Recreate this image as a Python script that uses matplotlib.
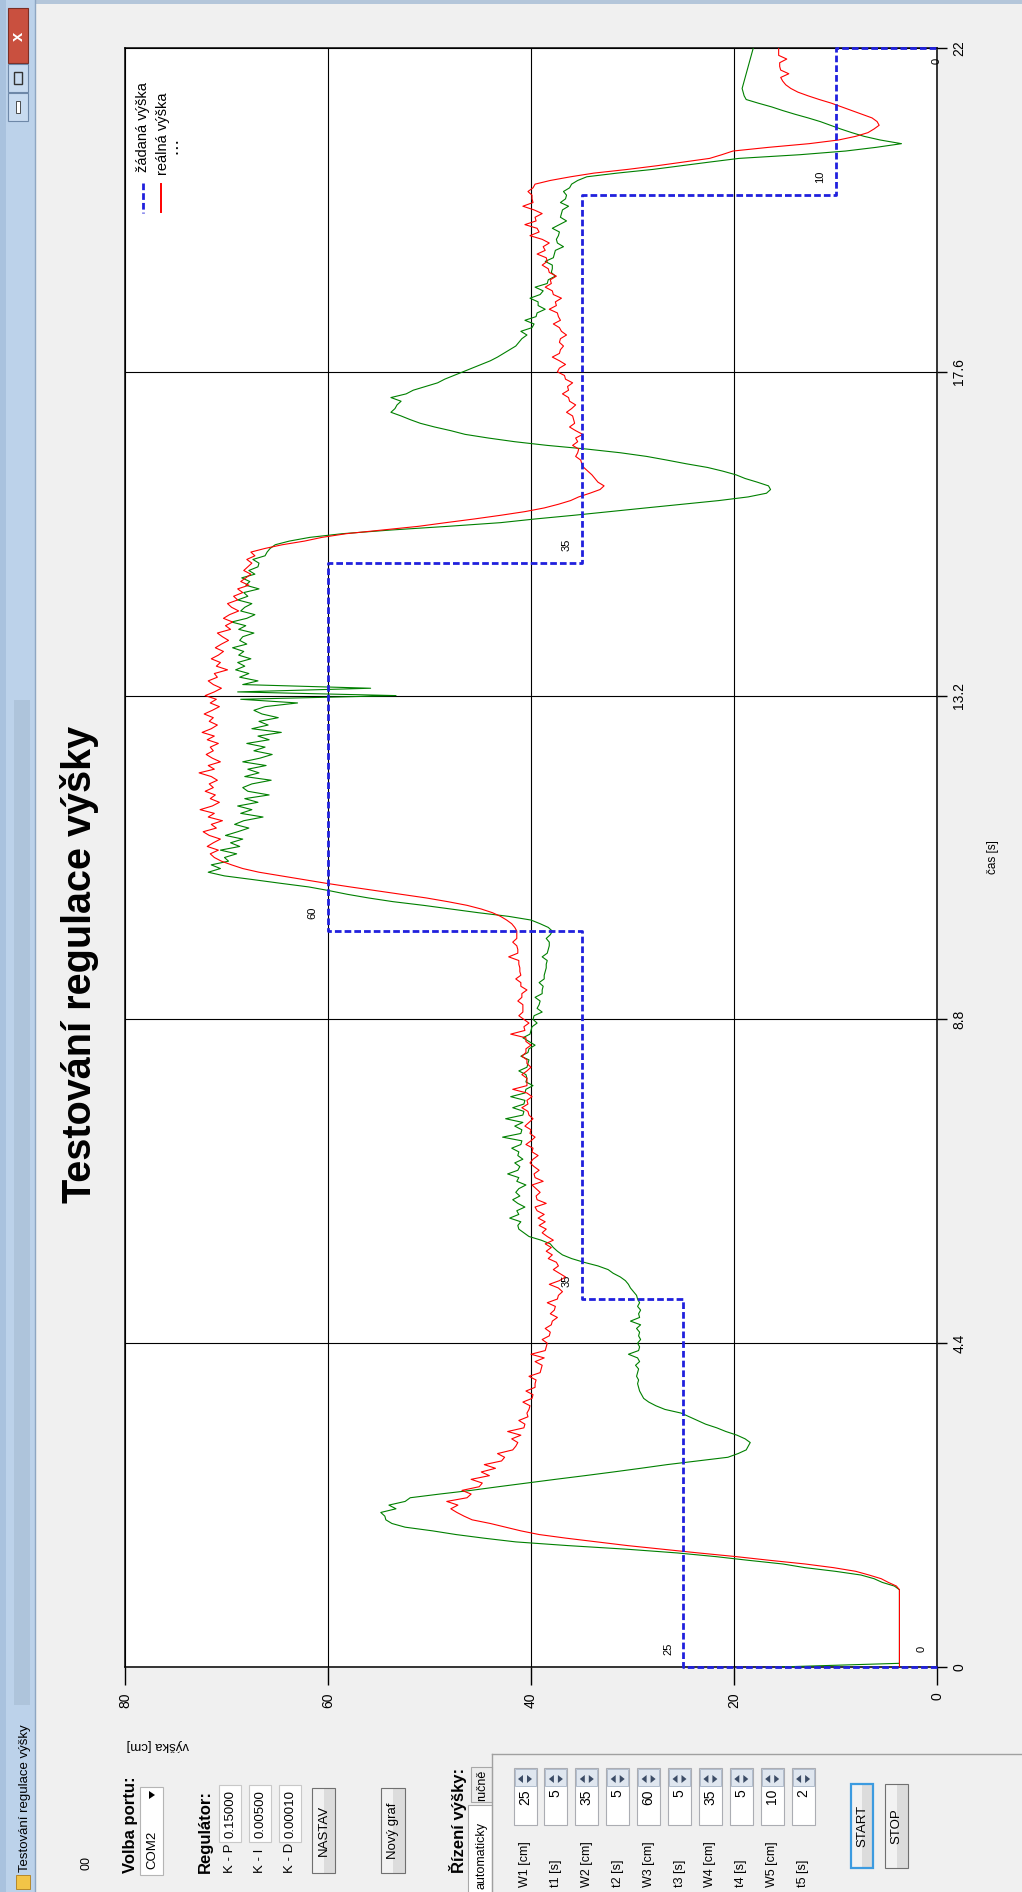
import numpy as np
import matplotlib.pyplot as plt
from matplotlib.patches import Rectangle, Polygon
from matplotlib.lines import Line2D

plt.rcParams['font.family'] = ['Liberation Sans', 'DejaVu Sans']

# ---------------- data ----------------
SAMPLE_PERIOD = 0.05          # s between logged samples

setpoint_start = 0
setpoint_t = [0, 5, 10, 15, 20, 22]      # s, start of each step
setpoint_h = [25, 35, 60, 35, 10, 0]     # cm

# reálná výška (red), one value per sample
real_h = [
    3.7, 3.7, 3.7, 3.7, 3.7, 3.7, 3.7, 3.7, 3.7, 3.7, 3.7, 3.7, 3.7, 3.7, 3.7, 3.7, 3.7, 3.7, 3.7, 3.7,
    3.7, 3.7, 4.0, 4.8, 5.5, 6.7, 8.0, 10.2, 13.0, 16.5, 19.8, 23.5, 27.0, 30.5, 33.5, 36.5, 39.2, 41.0, 42.5, 44.0,
    45.8, 46.6, 47.3, 47.9, 47.2, 48.3, 46.3, 45.9, 46.8, 45.1, 44.8, 45.9, 44.1, 44.9, 43.5, 44.6, 42.9, 42.6, 43.3, 41.8,
    41.5, 41.3, 41.9, 41.0, 42.3, 40.7, 40.6, 41.2, 40.3, 40.4, 40.2, 40.1, 40.8, 39.9, 39.8, 40.5, 39.6, 39.6, 39.5, 40.2,
    39.1, 39.0, 38.9, 39.6, 38.7, 40.0, 38.6, 38.5, 38.4, 38.9, 38.2, 38.1, 38.6, 38.0, 37.9, 37.4, 38.1, 37.7, 37.6, 38.4,
    37.4, 37.3, 36.9, 37.3, 38.2, 37.2, 36.6, 37.2, 37.8, 37.3, 37.5, 38.3, 37.9, 38.5, 38.0, 38.6, 37.8, 38.4, 38.9, 38.5,
    39.2, 38.6, 39.3, 38.7, 39.4, 39.6, 38.5, 39.4, 39.5, 39.1, 39.5, 39.9, 38.8, 39.6, 39.7, 39.2, 39.7, 40.1, 39.8, 39.3,
    39.9, 39.8, 40.5, 40.0, 39.6, 40.1, 40.0, 40.6, 40.2, 39.8, 40.2, 40.3, 40.9, 40.3, 40.4, 39.9, 40.4, 41.8, 40.4, 40.4,
    40.4, 40.9, 40.4, 40.0, 40.4, 40.4, 40.9, 40.5, 40.5, 40.0, 40.5, 40.5, 42.0, 40.6, 40.7, 40.2, 40.7, 41.2, 40.8, 40.8,
    40.8, 41.3, 40.9, 40.9, 40.4, 41.0, 41.0, 41.5, 41.0, 41.1, 41.1, 41.2, 41.2, 42.2, 41.3, 41.3, 41.4, 41.8, 41.4, 41.4,
    41.4, 41.6, 41.9, 42.4, 43.0, 43.8, 44.9, 46.3, 48.2, 50.3, 52.8, 55.3, 57.8, 60.2, 62.4, 64.6, 66.8, 68.4, 69.5, 70.5,
    71.2, 71.6, 70.8, 71.9, 71.3, 70.6, 71.7, 72.3, 71.0, 71.5, 70.4, 71.8, 71.2, 72.6, 71.4, 70.7, 71.6, 71.1, 72.1, 71.3,
    71.7, 70.9, 71.5, 72.7, 71.2, 71.8, 70.6, 71.4, 72.0, 71.3, 71.6, 70.8, 71.9, 71.2, 72.4, 71.5, 70.9, 71.7, 71.3, 72.2,
    71.4, 70.7, 71.6, 71.0, 72.1, 71.2, 70.5, 71.3, 71.8, 70.9, 71.2, 69.9, 71.0, 70.6, 71.5, 70.8, 70.3, 71.1, 70.5, 69.8,
    70.4, 70.9, 69.6, 70.1, 69.4, 70.3, 69.7, 68.8, 69.5, 69.9, 68.9, 69.3, 68.4, 68.9, 67.8, 68.6, 68.1, 67.6, 68.3, 67.9,
    67.5, 68.0, 67.2, 67.6, 66.2, 64.5, 62.3, 60.6, 58.2, 54.6, 51.1, 48.4, 45.6, 43.0, 40.6, 38.7, 37.3, 36.1, 35.3, 34.2,
    33.2, 32.8, 33.4, 33.7, 34.0, 34.4, 34.8, 35.0, 35.1, 35.6, 35.4, 35.3, 35.9, 35.4, 35.6, 34.9, 35.6, 36.2, 35.7, 35.8,
    35.9, 36.5, 36.0, 35.6, 36.2, 36.3, 36.9, 36.3, 36.4, 35.9, 36.6, 36.7, 37.4, 37.2, 36.6, 37.2, 37.9, 37.2, 37.1, 36.8,
    37.2, 37.1, 36.5, 37.0, 37.2, 37.8, 37.1, 37.3, 37.4, 38.2, 37.5, 37.6, 37.0, 37.8, 37.9, 38.6, 38.0, 38.1, 37.5, 38.2,
    38.3, 38.9, 38.4, 38.5, 39.4, 38.6, 38.8, 38.2, 38.9, 40.1, 39.2, 39.4, 40.6, 39.5, 39.6, 38.9, 39.7, 40.8, 39.8, 39.9,
    39.9, 40.3, 39.8, 39.6, 38.1, 36.1, 33.8, 30.5, 27.6, 25.0, 22.4, 21.2, 20.1, 16.6, 12.6, 9.7, 8.0, 6.8, 6.2, 5.7,
    5.9, 6.4, 7.4, 8.4, 9.4, 10.4, 11.6, 12.7, 13.7, 14.4, 14.9, 15.2, 15.4, 14.6, 15.4, 15.5, 15.5, 14.8, 15.6, 15.6,
    15.6,
]

# third (green) series
green_h = [
    15.6, 3.7, 3.7, 3.7, 3.7, 3.7, 3.7, 3.7, 3.7, 3.7, 3.7, 3.7, 3.7, 3.7, 3.7, 3.7, 3.7, 3.7, 3.7, 3.7,
    3.7, 3.7, 4.2, 5.4, 6.2, 7.5, 10.0, 13.0, 15.2, 18.6, 21.8, 25.6, 30.5, 36.4, 41.5, 44.6, 47.4, 49.7, 52.4, 53.7,
    54.3, 54.4, 54.8, 53.3, 54.0, 52.4, 51.9, 49.0, 45.9, 43.2, 40.4, 37.6, 34.7, 31.9, 29.2, 26.6, 23.6, 20.6, 19.6, 18.8,
    18.6, 18.4, 18.9, 19.7, 20.8, 21.7, 22.8, 23.6, 24.4, 25.2, 26.8, 27.7, 28.4, 28.9, 29.1, 29.3, 29.4, 29.5, 29.4, 29.6,
    29.5, 29.4, 29.7, 29.3, 29.5, 30.4, 29.4, 29.3, 29.5, 29.2, 29.4, 29.3, 29.6, 29.2, 30.2, 29.3, 29.4, 29.2, 29.5, 29.3,
    29.5, 29.6, 29.9, 30.2, 30.4, 30.7, 31.2, 31.9, 32.4, 33.4, 34.8, 36.0, 36.9, 37.4, 37.8, 38.1, 39.0, 40.2, 40.7, 41.2,
    41.3, 41.0, 42.1, 41.2, 41.4, 40.6, 41.3, 41.8, 41.1, 41.5, 41.2, 40.5, 41.4, 41.2, 42.3, 41.3, 41.1, 41.6, 40.8, 41.3,
    41.2, 41.9, 41.0, 40.9, 42.8, 41.0, 40.9, 41.6, 40.8, 42.5, 40.8, 40.7, 41.8, 40.7, 40.6, 42.0, 40.6, 40.5, 39.8, 40.5,
    40.4, 40.5, 41.2, 40.4, 40.3, 40.2, 41.0, 40.3, 40.2, 39.6, 40.2, 40.8, 40.1, 40.0, 39.9, 39.4, 39.8, 39.7, 38.9, 39.4,
    39.2, 39.1, 39.6, 38.9, 38.9, 38.8, 39.2, 38.7, 38.7, 38.6, 38.5, 38.5, 38.4, 38.9, 38.4, 38.3, 38.2, 38.2, 38.5, 38.1,
    37.9, 38.3, 39.1, 40.0, 42.2, 45.2, 47.9, 50.6, 53.6, 56.0, 58.1, 59.9, 61.9, 64.7, 67.4, 70.2, 71.8, 70.6, 71.5, 69.8,
    70.2, 69.0, 70.6, 68.7, 69.6, 68.4, 70.1, 68.9, 67.8, 69.2, 68.3, 66.4, 68.6, 67.5, 68.9, 66.9, 68.2, 65.8, 67.9, 68.4,
    67.5, 65.6, 68.2, 66.8, 67.9, 66.1, 68.4, 66.7, 65.5, 67.3, 66.2, 68.0, 65.8, 66.9, 64.6, 67.5, 65.9, 66.8, 64.9, 66.5,
    67.3, 66.2, 63.0, 68.6, 53.3, 68.9, 55.8, 68.4, 66.9, 68.7, 67.8, 69.1, 68.2, 68.9, 67.6, 68.8, 68.3, 69.4, 68.0, 68.7,
    68.4, 67.3, 68.8, 68.1, 69.5, 68.0, 67.2, 68.6, 68.2, 67.5, 68.9, 67.9, 68.3, 66.8, 68.1, 67.7, 68.5, 67.2, 67.8, 66.9,
    66.8, 67.4, 66.2, 66.0, 65.7, 65.2, 63.8, 61.8, 58.6, 53.8, 48.2, 43.0, 39.6, 35.8, 32.3, 28.7, 25.1, 21.5, 18.6, 16.8,
    16.4, 16.6, 17.7, 18.9, 19.8, 21.1, 22.6, 24.7, 26.6, 28.6, 31.2, 34.5, 38.4, 41.6, 44.2, 46.5, 47.9, 49.5, 50.9, 51.9,
    52.8, 53.8, 53.4, 53.2, 52.8, 53.8, 52.3, 51.6, 50.4, 49.2, 48.5, 47.6, 46.7, 45.8, 44.9, 44.0, 43.3, 42.7, 42.1, 41.5,
    41.2, 40.9, 40.4, 41.0, 39.9, 39.7, 40.6, 39.5, 39.4, 38.6, 39.3, 39.3, 40.1, 39.1, 38.8, 39.6, 38.4, 38.3, 37.6, 38.0,
    37.9, 37.9, 38.6, 37.8, 37.7, 37.6, 36.8, 37.4, 37.5, 37.3, 37.2, 37.9, 37.2, 36.5, 37.1, 37.0, 36.9, 36.3, 37.1, 36.6,
    36.5, 36.8, 36.2, 36.0, 35.4, 34.5, 31.5, 28.0, 25.2, 22.4, 19.5, 13.5, 9.0, 6.0, 3.5, 5.6, 7.2, 8.4, 9.5, 10.5,
    11.5, 12.7, 14.0, 15.2, 16.3, 17.6, 18.8, 19.0, 19.1, 19.2, 19.1, 19.0, 18.9, 18.8, 18.7, 18.6, 18.5, 18.4, 18.3, 18.2,
    18.1,
]

time_ticks = [0, 4.4, 8.8, 13.2, 17.6, 22]
height_ticks = [0, 20, 40, 60, 80]

gain_names = ['K - P', 'K - I', 'K - D']
gain_values = ['0.15000', '0.00500', '0.00010']

param_names = ['W1 [cm]', 't1 [s]', 'W2 [cm]', 't2 [s]', 'W3 [cm]',
               't3 [s]', 'W4 [cm]', 't4 [s]', 'W5 [cm]', 't5 [s]']
param_values = [25, 5, 35, 5, 60, 5, 35, 5, 10, 2]

# ---------------- figure (screen shot turned 90 deg) ----------------
W, H = 1022, 1892
fig = plt.figure(figsize=(W / 100, H / 100), dpi=100)
fig.patch.set_facecolor('#f0f0f0')


def box(x0, y0, x1, y1, fc, ec='none', lw=1.0, alpha=1.0, z=1):
    fig.add_artist(Rectangle((x0 / W, 1 - y1 / H), (x1 - x0) / W, (y1 - y0) / H,
                             transform=fig.transFigure, fc=fc, ec=ec, lw=lw,
                             alpha=alpha, zorder=z))


def line(x0, y0, x1, y1, color, lw=1.0, **kw):
    fig.add_artist(Line2D([x0 / W, x1 / W], [1 - y0 / H, 1 - y1 / H],
                          transform=fig.transFigure, color=color, lw=lw, **kw))


def vtext(x, y, s, size=9, ha='left', weight='normal', color='black', rot=90):
    fig.text(x / W, 1 - y / H, s, rotation=rot, rotation_mode='anchor',
             ha=ha, va='center', fontsize=size, fontweight=weight, color=color)


def tri(points, color='black'):
    fig.add_artist(Polygon([(x / W, 1 - y / H) for x, y in points], closed=True,
                           transform=fig.transFigure, fc=color, ec='none'))


def button(x0, y0, x1, y1, label, edge='#707070', lw=0.8):
    xm = (x0 + x1) / 2
    box(x0, y0, xm, y1, '#f2f2f2')
    box(xm, y0, x1, y1, '#dcdcdc')
    box(x0, y0, x1, y1, 'none', ec=edge, lw=lw)
    vtext(xm, (y0 + y1) / 2, label, size=9.5, ha='center')


# window title bar
box(0, 0, 35, H, '#bcd2ea')
box(0, 0, 6, H, '#a9c2de')
line(35, 0, 35, H, '#8ea6c2', lw=1)
box(14, 700, 30, 1705, '#7f93aa', alpha=0.22)
box(35, 0, W, 4, '#b4c6da')
box(8, 8, 28, 63, '#c9503f', ec='#7b2e25', lw=0.8)
vtext(18, 36, 'x', size=12, ha='center', weight='bold', color='white')
box(8, 64, 28, 92, '#c8dbf0', ec='#6e88a8', lw=0.8)
box(14, 72, 22, 84, 'none', ec='#333333', lw=1)
box(8, 93, 28, 121, '#c8dbf0', ec='#6e88a8', lw=0.8)
box(16, 101, 20, 113, 'white', ec='#333333', lw=0.6)
box(16, 1875, 30, 1889, '#f2c447', ec='#b07d1a', lw=0.6)
vtext(25, 1872, 'Testování regulace výšky', size=9.5)

# chart title and axis captions
vtext(80, 964, 'Testování regulace výšky', size=28.5, ha='center', weight='bold')
vtext(993, 857, 'čas [s]', size=8.5, ha='center')
vtext(158, 1745, 'výška [cm]', size=9.5, ha='center', rot=180)

# ---------------- plot ----------------
ax = fig.add_axes([125 / W, 1 - 1667 / H, 812 / W, 1619 / H])
ax.set_facecolor('white')
t = np.arange(len(real_h)) * SAMPLE_PERIOD

ax.plot(green_h, t, color='#008000', lw=0.8, zorder=3)
ax.plot(real_h, t, color='#ff0000', lw=0.8, zorder=4)

sp_x, sp_y = [setpoint_start], [setpoint_t[0]]
for i in range(len(setpoint_h) - 1):
    sp_x += [setpoint_h[i], setpoint_h[i]]
    sp_y += [setpoint_t[i], setpoint_t[i + 1]]
sp_x.append(setpoint_h[-1])
sp_y.append(setpoint_t[-1])
ax.plot(sp_x, sp_y, color='#2020dd', lw=2.0, dashes=(2.4, 1.1), zorder=5,
        clip_on=False)

label_vals = [setpoint_start] + setpoint_h
label_times = [setpoint_t[0]] + setpoint_t
for v, ts in zip(label_vals, label_times):
    if ts + 0.25 > 22:
        lx, ly = v, ts - 0.17
    else:
        lx, ly = v + 1.5, ts + 0.25
    ax.text(lx, ly, str(v), rotation=90, ha='center', va='center',
            fontsize=8, zorder=6)

ax.set_xlim(80, 0)
ax.set_ylim(0, 22)
ax.set_xticks(height_ticks)
ax.set_xticklabels([str(v) for v in height_ticks])
ax.set_yticks(time_ticks)
ax.set_yticklabels([f'{v:g}' for v in time_ticks])
ax.yaxis.tick_right()
ax.tick_params(axis='x', direction='out', length=13, width=1, pad=5,
               labelsize=10, labelrotation=90)
ax.tick_params(axis='y', direction='out', length=7.5, width=1, pad=3.5,
               labelsize=10, labelrotation=90)
for lab in ax.get_yticklabels():
    lab.set_va('center')
ax.grid(True, color='black', lw=0.8)
for sp in ax.spines.values():
    sp.set_linewidth(1.1)

# legend (drawn by hand, rotated like the rest)
line(143, 183, 143, 213, '#2020dd', lw=2.0, dashes=(2.4, 1.1))
line(161, 184, 161, 212, '#ff0000', lw=1.4)
vtext(143, 172, 'žádaná výška', size=10.5)
vtext(163, 175, 'reálná výška', size=10.5)
vtext(178, 154, '• • •', size=6)

# ---------------- control panel ----------------
vtext(87, 1870, '00', size=9)
vtext(130, 1873, 'Volba portu:', size=12, weight='bold')
box(140, 1787, 163, 1875, 'white', ec='#b5b5b5', lw=0.8)
vtext(152, 1869, 'COM2', size=9.5)
tri([(149, 1791), (149, 1799), (155, 1795)])

vtext(205, 1873, 'Regulátor:', size=12, weight='bold')
for i, (name, val) in enumerate(zip(gain_names, gain_values)):
    xc = 230 + 30 * i
    vtext(xc, 1873, name, size=9.5)
    box(xc - 11, 1785, xc + 11, 1842, 'white', ec='#c8c8c8', lw=0.8)
    vtext(xc, 1838, val, size=9.5)
button(312, 1788, 335, 1873, 'NASTAV')
button(381, 1788, 405, 1873, 'Nový graf')

vtext(458, 1873, 'Řízení výšky:', size=12, weight='bold')
box(471, 1767, 492, 1802, '#ececec', ec='#a8a8a8', lw=0.8)
vtext(482, 1785, 'ručně', size=9, ha='center')
box(468, 1805, 492, 1900, 'white', ec='#a8a8a8', lw=0.8)
vtext(481, 1889, 'automaticky', size=9)
line(492, 1754, 492, H, '#a0a0a0', lw=1)
line(492, 1754, W, 1754, '#a0a0a0', lw=1)

for i, (name, val) in enumerate(zip(param_names, param_values)):
    xc = 525 + 30.9 * i
    vtext(xc, 1887, name, size=9)
    box(xc - 11.5, 1768, xc + 11.5, 1825, 'white', ec='#abadb3', lw=0.8)
    box(xc - 10.5, 1769, xc + 10.5, 1786, '#dfe6ef', ec='#a7b4c6', lw=0.6)
    tri([(xc - 2, 1775), (xc - 2, 1783), (xc - 7, 1779)], '#3c4c66')
    tri([(xc + 2, 1775), (xc + 2, 1783), (xc + 7, 1779)], '#3c4c66')
    vtext(xc, 1789, str(val), size=10, ha='right')

button(851, 1784, 873, 1868, 'START', edge='#3c9be0', lw=1.6)
button(885, 1784, 908, 1868, 'STOP')

fig.savefig('out.png', dpi=100, facecolor=fig.get_facecolor())
